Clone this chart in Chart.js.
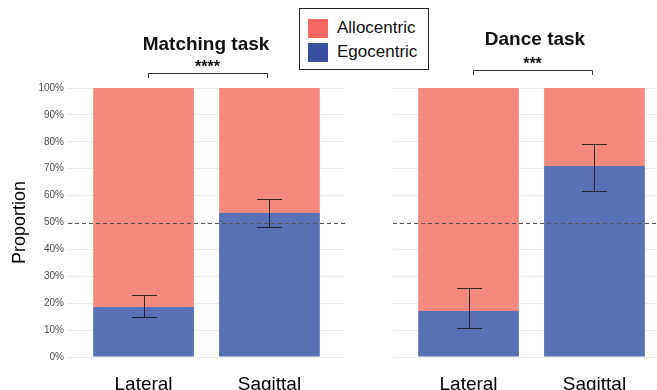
<!DOCTYPE html>
<html>
<head>
<meta charset="utf-8">
<script src="https://cdn.jsdelivr.net/npm/chart.js@4.4.0/dist/chart.umd.min.js"></script>
<style>
  body { margin: 0; width: 657px; height: 390px; overflow: hidden; background: #fff; font-family: "Liberation Sans", Arial, sans-serif; }
  #wrap { position: relative; width: 657px; height: 390px; overflow: hidden; }
  #left { position: absolute; left: 0; top: 0; }
  #right { position: absolute; left: 350px; top: 0; }
  #legend { position: absolute; left: 299px; top: 8px; width: 130px; height: 62px; border: 1px solid #222; background: #fff; box-sizing: border-box; }
  .item { position: absolute; left: 8px; height: 20px; display: flex; align-items: center; font-size: 17px; color: #111; }
  .sw { width: 20px; height: 19px; margin-right: 9px; }
</style>
</head>
<body>
<div id="wrap">
  <div id="left" style="width:350px;height:390px"><canvas id="c1"></canvas></div>
  <div id="right" style="width:320px;height:390px"><canvas id="c2"></canvas></div>
  <div id="legend">
    <div class="item" style="top:9px"><span class="sw" style="background:#F3675F"></span>Allocentric</div>
    <div class="item" style="top:33px"><span class="sw" style="background:#3A4EA0"></span>Egocentric</div>
  </div>
</div>
<script>
// conditions on the x axis
const conditions = ["Lateral", "Sagittal"];
const xPositions = [1, 2];
const yTicks = [0, 10, 20, 30, 40, 50, 60, 70, 80, 90, 100];

// matching task (percent egocentric, error bar range)
const matchingEgo = [18.6, 53.5];
const matchingLow = [15.0, 48.3];
const matchingHigh = [23.1, 58.7];
const matchingSig = "****";

// dance task
const danceEgo = [17.1, 71.0];
const danceLow = [10.8, 61.7];
const danceHigh = [25.7, 79.2];
const danceSig = "***";

const chanceLevel = 50;

const alloColor = "#F48A7E";
const egoColor = "#5870B4";

const extras = {
  id: "extras",
  afterDatasetsDraw(chart, args, opts) {
    const ctx = chart.ctx;
    const x = chart.scales.x;
    const y = chart.scales.y;
    const area = chart.chartArea;
    ctx.save();
    // chance line
    ctx.strokeStyle = "#555";
    ctx.lineWidth = 1;
    ctx.setLineDash([4, 3]);
    ctx.beginPath();
    ctx.moveTo(area.left, Math.round(y.getPixelForValue(chanceLevel)) + 0.5);
    ctx.lineTo(area.right, Math.round(y.getPixelForValue(chanceLevel)) + 0.5);
    ctx.stroke();
    ctx.setLineDash([]);
    // error bars
    ctx.strokeStyle = "rgba(20,20,20,0.85)";
    opts.low.forEach((lo, i) => {
      const px = Math.round(x.getPixelForValue(xPositions[i])) + 0.5;
      const y1 = Math.round(y.getPixelForValue(lo)) + 0.5;
      const y2 = Math.round(y.getPixelForValue(opts.high[i])) + 0.5;
      ctx.beginPath();
      ctx.moveTo(px, y1); ctx.lineTo(px, y2);
      ctx.moveTo(px - 12.5, y1); ctx.lineTo(px + 12.5, y1);
      ctx.moveTo(px - 12.5, y2); ctx.lineTo(px + 12.5, y2);
      ctx.stroke();
    });
    // title and significance bracket
    const cx1 = x.getPixelForValue(xPositions[0]) + 4;
    const cx2 = x.getPixelForValue(xPositions[1]) - 2;
    const by = opts.bracketY;
    ctx.strokeStyle = "#333";
    ctx.beginPath();
    ctx.moveTo(Math.round(cx1) + 0.5, by + 5);
    ctx.lineTo(Math.round(cx1) + 0.5, by + 0.5);
    ctx.lineTo(Math.round(cx2) + 0.5, by + 0.5);
    ctx.lineTo(Math.round(cx2) + 0.5, by + 5);
    ctx.stroke();
    ctx.fillStyle = "#111";
    ctx.textAlign = "center";
    ctx.textBaseline = "middle";
    ctx.font = "bold 16px 'Liberation Sans', Arial, sans-serif";
    ctx.fillText(opts.sig, (cx1 + cx2) / 2, by - 5);
    ctx.font = "bold 19px 'Liberation Sans', Arial, sans-serif";
    ctx.fillText(opts.title, opts.titleX, opts.titleY);
    ctx.restore();
  }
};

function makeChart(id, ego, low, high, sig, title, showY, leftW, rightPad, titleX, titleY, bracketY) {
  return new Chart(document.getElementById(id), {
    type: "bar",
    data: {
      datasets: [
        {
          label: "Egocentric",
          data: xPositions.map((p, i) => ({ x: p, y: ego[i] })),
          backgroundColor: egoColor,
          categoryPercentage: 1,
          barPercentage: 0.8
        },
        {
          label: "Allocentric",
          data: xPositions.map((p, i) => ({ x: p, y: 100 - ego[i] })),
          backgroundColor: alloColor,
          categoryPercentage: 1,
          barPercentage: 0.8
        }
      ]
    },
    options: {
      responsive: true,
      maintainAspectRatio: false,
      animation: false,
      layout: { padding: { top: 88, right: rightPad, left: 0, bottom: 0 } },
      plugins: {
        legend: { display: false },
        tooltip: { enabled: false },
        extras: { low: low, high: high, sig: sig, title: title, titleX: titleX, titleY: titleY, bracketY: bracketY }
      },
      scales: {
        x: {
          type: "linear",
          stacked: true,
          offset: false,
          min: 0.4,
          max: 2.6,
          grid: { display: false },
          border: { display: false },
          afterBuildTicks: (s) => { s.ticks = xPositions.map(v => ({ value: v })); },
          afterFit: (s) => { s.height = 33; },
          ticks: {
            callback: (v) => conditions[xPositions.indexOf(v)],
            color: "#000",
            font: { size: 19, family: "'Liberation Sans', Arial, sans-serif" },
            padding: 8,
            maxRotation: 0,
            autoSkip: false
          }
        },
        y: {
          stacked: true,
          min: 0,
          max: 100,
          afterBuildTicks: (s) => { s.ticks = yTicks.map(v => ({ value: v })); },
          afterFit: (s) => { s.width = leftW; },
          grid: { color: "#EBEBEB", drawTicks: false },
          border: { display: false },
          ticks: {
            display: showY,
            callback: (v) => v + "%",
            color: "#4D4D4D",
            font: { size: 10, family: "'Liberation Sans', Arial, sans-serif" },
            padding: 4
          },
          title: {
            display: showY,
            text: "Proportion",
            color: "#000",
            font: { size: 18, family: "'Liberation Sans', Arial, sans-serif" },
            padding: { top: 9, bottom: 0 }
          }
        }
      }
    },
    plugins: [extras]
  });
}

makeChart("c1", matchingEgo, matchingLow, matchingHigh, matchingSig, "Matching task", true, 68, 5, 206, 45, 73);
makeChart("c2", danceEgo, danceLow, danceHigh, danceSig, "Dance task", false, 43, 0, 185, 40, 70);
</script>
</body>
</html>
